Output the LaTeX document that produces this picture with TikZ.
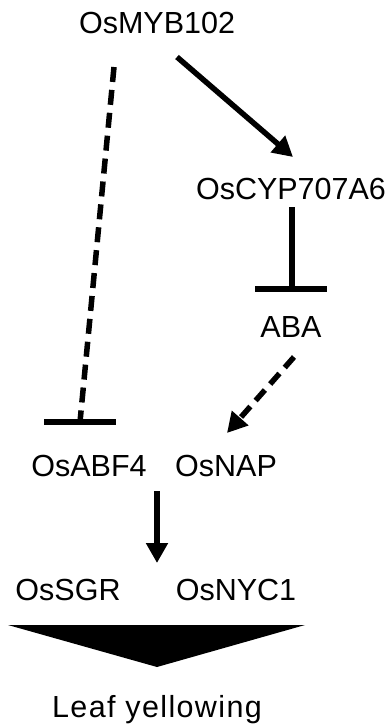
\documentclass[tikz,border=0pt]{standalone}
\usepackage{fontspec}
\setmainfont{Liberation Sans}
\usetikzlibrary{arrows.meta}
\begin{document}
\begin{tikzpicture}[x=1pt,y=-1pt,
  lbl/.style={anchor=base,inner sep=0pt,font=\fontsize{30.5}{36}\selectfont},
  conn/.style={line width=5.5pt},
  dsh/.style={conn,dash pattern=on 15pt off 8pt},
  tip/.style={-{Triangle[length=20pt,width=21pt]}}]
\useasboundingbox (0,0) rectangle (391,724);
\node[lbl] (myb) at (157,33) {OsMYB102};
\node[lbl] (cyp) at (291,199) {OsCYP707A6};
\node[lbl] (aba) at (291,337) {ABA};
\node[lbl] (abf) at (89,476) {OsABF4};
\node[lbl] (nap) at (226,476) {OsNAP};
\node[lbl] (sgr) at (68,600) {OsSGR};
\node[lbl] (nyc) at (236,600) {OsNYC1};
\node[lbl] (leaf) at (157,717) {\addfontfeature{LetterSpace=4.5}Leaf yellowing};
% endpoints
\coordinate (d1s) at (114,67);
\coordinate (d1e) at (80,422);
\coordinate (b1l) at (44,422);
\coordinate (b1r) at (116,422);
\coordinate (a1s) at (177,57);
\coordinate (a1e) at (293,157);
\coordinate (i2s) at (292,207);
\coordinate (i2e) at (292,289);
\coordinate (b2l) at (255,289);
\coordinate (b2r) at (327,289);
\coordinate (a2s) at (294,357);
\coordinate (a2e) at (227,433);
\coordinate (a3s) at (157,491);
\coordinate (a3e) at (157,563);
% connectors
\draw[dsh] (d1s) -- (d1e);
\draw[conn] (b1l) -- (b1r);
\draw[conn,tip] (a1s) -- (a1e);
\draw[conn] (i2s) -- (i2e);
\draw[conn] (b2l) -- (b2r);
\draw[conn,tip,dash pattern=on 14pt off 8pt] (a2s) -- (a2e);
\draw[conn,tip] (a3s) -- (a3e);
\fill (8,625) -- (305,625) -- (157,667) -- cycle;
\end{tikzpicture}
\end{document}
